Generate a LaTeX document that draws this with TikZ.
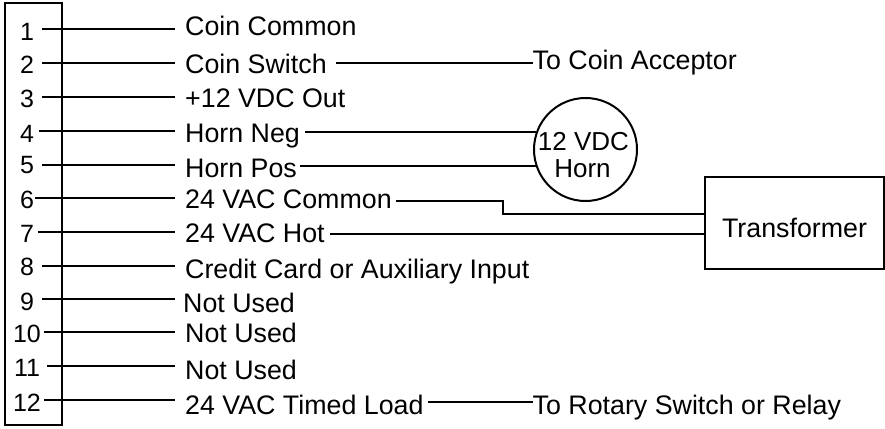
\documentclass[tikz,border=0pt]{standalone}
\usepackage{fontspec}
\setmainfont{Liberation Sans}
\usetikzlibrary{positioning}

\tikzset{
  wire/.style={line width=2pt},
  pin/.style={anchor=base, inner sep=0pt, font=\fontsize{25}{27}\selectfont},
  lab/.style={anchor=base west, inner xsep=10pt, inner ysep=0pt, font=\fontsize{26.8}{27}\selectfont},
  hornlab/.style={anchor=base, inner sep=0pt, font=\fontsize{26}{27}\selectfont},
}

\begin{document}
\begin{tikzpicture}[x=1pt,y=-1pt]
  \useasboundingbox (0,0) rectangle (885,428);
  \node[draw, line width=2pt, minimum width=57pt, minimum height=422pt, inner sep=0pt] (conn) at (33.5,214) {};

  \node[pin] (p1) at (27,41) {1};
  \node[pin] (p2) at (27,73) {2};
  \node[pin] (p3) at (27,107) {3};
  \node[pin] (p4) at (27,142) {4};
  \node[pin] (p5) at (27,173) {5};
  \node[pin] (p6) at (27,208) {6};
  \node[pin] (p7) at (27,242) {7};
  \node[pin] (p8) at (27,275) {8};
  \node[pin] (p9) at (27,310) {9};
  \node[pin] (p10) at (27,342) {10};
  \node[pin] (p11) at (27,376) {11};
  \node[pin] (p12) at (27,411) {12};

  \coordinate (w1) at (42,29);
  \coordinate (w2) at (42,63);
  \coordinate (w3) at (42,97);
  \coordinate (w4) at (39,131);
  \coordinate (w5) at (42,165);
  \coordinate (w6) at (35,198);
  \coordinate (w7) at (37.5,232);
  \coordinate (w8) at (42,266);
  \coordinate (w9) at (42,299);
  \coordinate (w10) at (43.5,332);
  \coordinate (w11) at (47,366);
  \coordinate (w12) at (44,400);

  \node[lab] (l1) at (175,36) {Coin Common};
  \node[lab] (l2) at (175,73) {Coin Switch};
  \node[lab] (l3) at (175,107) {+12 VDC Out};
  \node[lab] (l4) at (175,142) {Horn Neg};
  \node[lab] (l5) at (175,177) {Horn Pos};
  \node[lab] (l6) at (175,208) {24 VAC Common};
  \node[lab] (l7) at (175,242) {24 VAC Hot};
  \node[lab] (l8) at (175,278) {Credit Card or Auxiliary Input};
  \node[lab] (l9) at (173,312) {Not Used};
  \node[lab] (l10) at (175,342) {Not Used};
  \node[lab] (l11) at (175,379) {Not Used};
  \node[lab] (l12) at (175,414) {24 VAC Timed Load};

  \node[lab, inner xsep=0pt] (coin) at (532.5,70) {To Coin Acceptor};
  \node[lab, inner xsep=0pt] (rotary) at (532.5,414) {To Rotary Switch or Relay};

  \node[draw, circle, line width=2pt, minimum size=103pt, inner sep=0pt] (horn) at (585.5,149.5) {};
  \node[hornlab] (hornv) at (583.5,150) {12 VDC};
  \node[hornlab] (hornn) at (582.5,177) {Horn};
  \node[draw, line width=2pt, minimum width=179pt, minimum height=92pt, inner sep=0pt] (trans) at (794.5,223) {};
  \node[lab, anchor=base, inner xsep=0pt] (transn) at (794.5,237) {Transformer};

  \coordinate (t2) at (336,63);
  \coordinate (t4) at (305,132);
  \coordinate (t5) at (300,166);
  \coordinate (t6) at (396,201);
  \coordinate (t7) at (330,234);
  \coordinate (t12) at (428,402);

  \path[wire]
  (w1) edge (w1 -| l1.west)
  (w2) edge (w2 -| l2.west)
  (w3) edge (w3 -| l3.west)
  (w4) edge (w4 -| l4.west)
  (w5) edge (w5 -| l5.west)
  (w6) edge (w6 -| l6.west)
  (w7) edge (w7 -| l7.west)
  (w8) edge (w8 -| l8.west)
  (w9) edge (w9 -| l10.west)
  (w10) edge (w10 -| l10.west)
  (w11) edge (w11 -| l11.west)
  (w12) edge (w12 -| l12.west)
  (t2) edge (t2 -| coin.west)
  (t4) edge (t4 -| horn.161)
  (t5) edge (t5 -| horn.199)
  (t7) edge (t7 -| trans.west)
  (t12) edge (t12 -| rotary.west);

  \draw[wire] (t6) -- (503,201) -- (503,214) -- (trans.west |- 503,214);
\end{tikzpicture}
\end{document}
